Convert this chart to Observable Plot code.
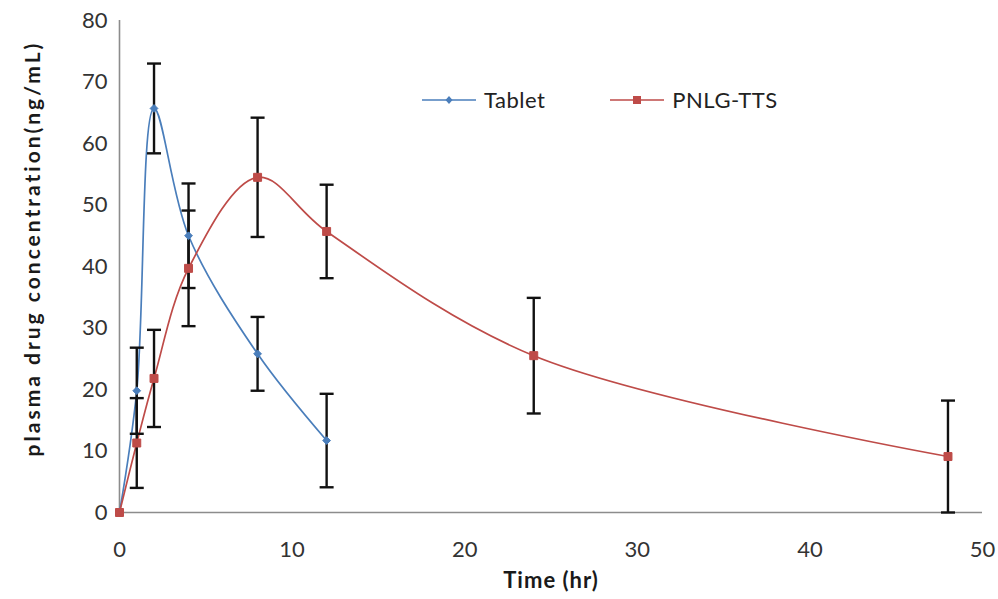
<!DOCTYPE html>
<html>
<head>
<meta charset="utf-8">
<script src="https://cdn.jsdelivr.net/npm/d3@7"></script>
<script src="https://cdn.jsdelivr.net/npm/@observablehq/plot@0.6"></script>
<style>
  html, body { margin: 0; padding: 0; background: #fff; }
  #wrap { position: relative; width: 998px; height: 599px; font-family: Lato, "Open Sans", sans-serif; }
  #legend { position: absolute; top: 86px; left: 422px; display: flex; gap: 10px; font-size: 22px; color: #222; letter-spacing: 0.5px; }
  #legend .item { display: flex; align-items: center; gap: 8px; }
  #legend .item:first-child { margin-right: 55px; }
  .ylab text { letter-spacing: 3px; }
  .xlab text { letter-spacing: 1px; }
</style>
</head>
<body>
<div id="wrap">
  <div id="chart"></div>
  <div id="legend"></div>
</div>
<script>
// ---- data ----
const seriesNames = ["Tablet", "PNLG-TTS"];
const seriesColors = ["#4A7EBB", "#BE4B48"];

const tabletTime = [0, 1, 2, 4, 8, 12];
const tabletMean = [0, 19.8, 65.7, 45.0, 25.8, 11.7];
const tabletSD   = [0, 7.0, 7.3, 8.5, 6.0, 7.6];

const pnlgTime = [0, 1, 2, 4, 8, 12, 24, 48];
const pnlgMean = [0, 11.3, 21.8, 39.7, 54.5, 45.7, 25.5, 9.1];
const pnlgSD   = [0, 7.3, 7.9, 9.4, 9.7, 7.6, 9.4, 9.1];

const xTicks = [0, 10, 20, 30, 40, 50];
const yTicks = [0, 10, 20, 30, 40, 50, 60, 70, 80];

// ---- build table ----
const tablet = tabletTime.map((t, i) => ({series: "Tablet", t, m: tabletMean[i], sd: tabletSD[i]}));
const pnlg = pnlgTime.map((t, i) => ({series: "PNLG-TTS", t, m: pnlgMean[i], sd: pnlgSD[i]}));
const all = [...tablet, ...pnlg];
const withErr = all.filter(d => d.sd > 0);

const capSymbol = { draw(ctx) { ctx.moveTo(-7, 0); ctx.lineTo(7, 0); } };

const font = "Lato, 'Open Sans', sans-serif";

const chart = Plot.plot({
  width: 998,
  height: 599,
  marginLeft: 119,
  marginRight: 16,
  marginTop: 20,
  marginBottom: 87,
  style: { fontFamily: font, fontSize: "22px", color: "#333", background: "#fff" },
  x: { domain: [0, 50], label: null },
  y: { domain: [0, 80], label: null },
  color: { domain: seriesNames, range: seriesColors },
  marks: [
    Plot.ruleX([0], { stroke: "#8c8c8c", strokeWidth: 1.6 }),
    Plot.ruleY([0], { stroke: "#8c8c8c", strokeWidth: 1.6 }),
    Plot.line(all, { x: "t", y: "m", z: "series", stroke: "series", strokeWidth: 1.7, curve: "catmull-rom" }),
    Plot.ruleX(withErr, { x: "t", y1: d => Math.max(0, d.m - d.sd), y2: d => d.m + d.sd, stroke: "#111", strokeWidth: 2.4 }),
    Plot.dot(withErr, { x: "t", y: d => d.m + d.sd, symbol: capSymbol, stroke: "#111", strokeWidth: 2.4, fill: "none" }),
    Plot.dot(withErr, { x: "t", y: d => Math.max(0, d.m - d.sd), symbol: capSymbol, stroke: "#111", strokeWidth: 2.4, fill: "none" }),
    Plot.dot(tablet, { x: "t", y: "m", symbol: "diamond2", r: 3.5, fill: seriesColors[0], stroke: seriesColors[0], strokeWidth: 1 }),
    Plot.dot(pnlg, { x: "t", y: "m", symbol: "square", r: 4.5, fill: seriesColors[1], stroke: seriesColors[1], strokeWidth: 1 }),
    Plot.axisX({ ticks: xTicks, tickSize: 0, tickPadding: 29, label: null, fontSize: 22 }),
    Plot.axisY({ ticks: yTicks, tickSize: 0, tickPadding: 12, label: null, fontSize: 22 }),
    Plot.text(["Time (hr)"], { frameAnchor: "bottom", dy: 75, fontWeight: "bold", fontSize: 22, fill: "#1a1a1a", className: "xlab" }),
    Plot.text(["plasma drug concentration(ng/mL)"], { frameAnchor: "left", dx: -86, dy: -18, rotate: -90, textAnchor: "middle", fontWeight: "bold", fontSize: 21, fill: "#1a1a1a", className: "ylab" })
  ]
});
document.getElementById("chart").appendChild(chart);

// ---- legend ----
const legend = document.getElementById("legend");
seriesNames.forEach((name, i) => {
  const item = document.createElement("div");
  item.className = "item";
  const marker = i === 0
    ? `<path d="M27,4 L30.5,8 L27,12 L23.5,8 Z" fill="${seriesColors[i]}"/>`
    : `<rect x="23" y="4" width="8" height="8" fill="${seriesColors[i]}"/>`;
  item.innerHTML = `<svg width="54" height="16"><line x1="0" y1="8" x2="54" y2="8" stroke="${seriesColors[i]}" stroke-width="1.7"/>${marker}</svg><span>${name}</span>`;
  legend.appendChild(item);
});
</script>
</body>
</html>
